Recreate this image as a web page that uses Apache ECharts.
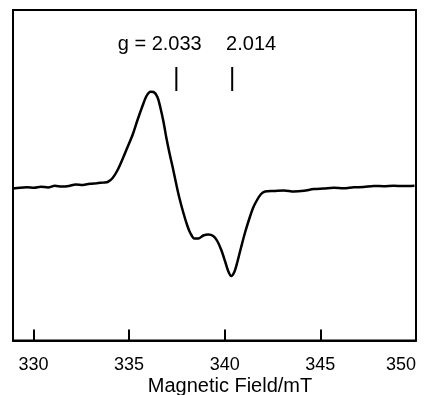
<!DOCTYPE html>
<html>
<head>
<meta charset="utf-8">
<script src="https://cdn.jsdelivr.net/npm/echarts@6/dist/echarts.min.js"></script>
<style>html,body{margin:0;padding:0;background:#fff;}#c{width:428px;height:395px;}</style>
</head>
<body>
<div id="c"></div>
<script>
// Magnetic field (mT)
var field = [328.93,329.30,329.66,330.03,330.39,330.76,331.12,331.48,331.85,332.21,332.58,332.94,333.31,333.67,333.88,
  334.14,334.40,334.66,334.92,335.18,335.44,335.70,335.91,336.12,336.28,336.48,336.64,336.80,336.95,337.11,337.27,337.47,
  337.63,337.84,338.05,338.20,338.41,338.62,338.88,339.14,339.40,339.61,339.82,340.03,340.18,340.34,340.50,340.66,340.86,
  341.07,341.28,341.48,341.69,341.90,342.11,342.58,343.10,343.62,344.14,344.66,345.18,345.70,346.22,346.74,347.26,347.79,
  348.31,348.83,349.35,349.92];
// EPR signal (arbitrary units)
var signal = [-0.5,0.3,0.7,0.2,1.2,0.6,2.2,1.4,2.0,3.5,3.0,4.2,4.8,5.5,6.0,
  10,18,29,41,53,68,82,92,96.3,96,91,80,66,50,35,21.5,3.5,
  -10,-25,-38,-45,-50.5,-50.5,-47.5,-46.5,-48,-53,-62,-74,-83,-88,-84,-74,-59,
  -44,-31,-20,-12,-6,-3.5,-3.0,-2.4,-3.6,-2.8,-1.0,-0.5,0.2,-0.3,0.7,0.9,2.0,
  1.8,2.2,2.0,2.3];
// g-value markers
var gLabels = ['g = 2.033', '2.014'];
var gField = [337.47, 340.39];
var gLabelField = [336.60, 341.38];
var markTop = 121, markBottom = 97, labelY = 144;
var xTicks = [330, 335, 340, 345, 350];

var FONT = 'Liberation Sans, Arial, sans-serif';
var data = field.map(function (f, i) { return [f, signal[i]]; });
var series = [{
  type: 'line', data: data, showSymbol: false, smooth: 0.3,
  lineStyle: { color: '#000', width: 2.5 }, z: 3
}];
gField.forEach(function (f) {
  series.push({ type: 'line', data: [[f, markBottom], [f, markTop]], showSymbol: false,
    lineStyle: { color: '#000', width: 2 } });
});
series.push({
  type: 'scatter', symbolSize: 0, itemStyle: { color: '#000', opacity: 1 },
  data: gLabelField.map(function (f, i) { return { value: [f, labelY], name: gLabels[i] }; }),
  label: { show: true, position: 'inside', formatter: '{b}', color: '#000', opacity: 1, textBorderWidth: 0,
    fontFamily: FONT, fontSize: 20 }
});

var chart = echarts.init(document.getElementById('c'));
chart.setOption({
  animation: false,
  grid: { left: 13, right: 12, top: 10, bottom: 54.5, show: true, borderColor: '#000', borderWidth: 2,
    containLabel: false, outerBoundsMode: 'none' },
  xAxis: {
    type: 'value', min: 328.93, max: 350, interval: 5,
    axisLine: { show: true, onZero: false, lineStyle: { color: '#000', width: 2 } },
    axisTick: { show: true, inside: true, length: 11, lineStyle: { color: '#000', width: 2 }, customValues: xTicks },
    axisLabel: { color: '#000', fontSize: 18, margin: 16, fontFamily: FONT,
      customValues: xTicks, alignMaxLabel: 'right' },
    splitLine: { show: false },
    name: 'Magnetic Field/mT', nameLocation: 'middle', nameGap: 36, nameMoveOverlap: false,
    nameTextStyle: { color: '#000', fontSize: 20, fontFamily: FONT, padding: [0, 0, 0, 31] }
  },
  yAxis: {
    type: 'value', min: -152.5, max: 178, show: false, splitLine: { show: false }
  },
  series: series
});
</script>
</body>
</html>
